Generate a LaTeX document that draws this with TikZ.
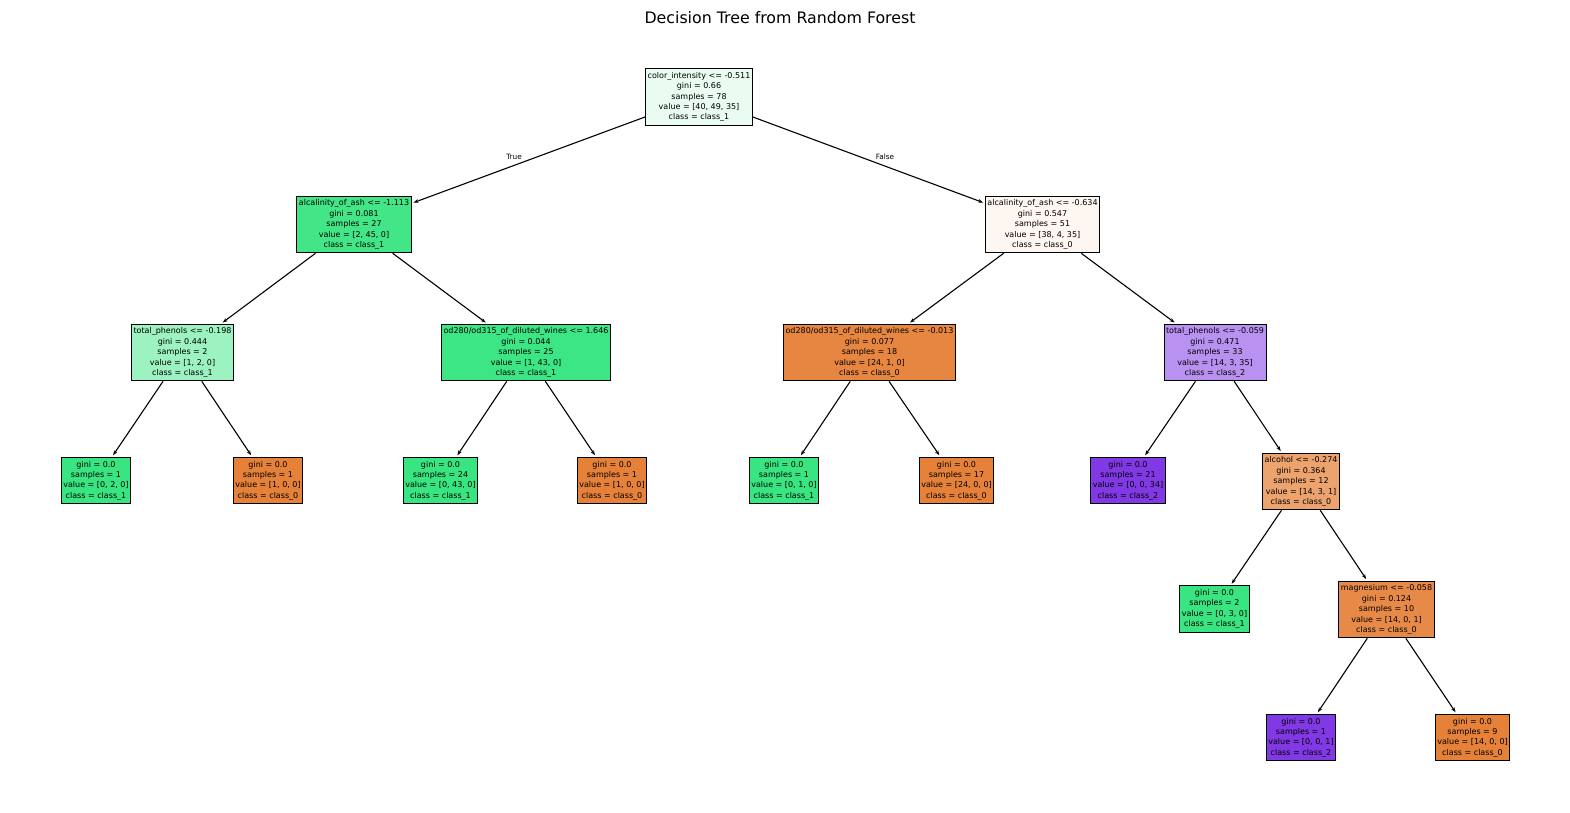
\documentclass[tikz,border=0pt]{standalone}
\usepackage{fontspec}
\setmainfont{DejaVu Sans}
\usetikzlibrary{arrows.meta}

\definecolor{rootc}{RGB}{234,252,241}
\definecolor{alkac}{RGB}{66,230,135}
\definecolor{phenc}{RGB}{156,242,192}
\definecolor{odac}{RGB}{61,230,132}
\definecolor{alkbc}{RGB}{253,246,241}
\definecolor{odbc}{RGB}{230,134,65}
\definecolor{phebc}{RGB}{185,145,241}
\definecolor{alcoc}{RGB}{236,163,110}
\definecolor{magnc}{RGB}{231,138,71}
\definecolor{zero}{RGB}{229,129,57}
\definecolor{one}{RGB}{57,229,129}
\definecolor{two}{RGB}{129,57,229}

\tikzset{
  box/.style={draw, line width=1pt, align=center, inner xsep=2pt, inner ysep=3.5pt,
    font=\fontsize{8}{10.4}\selectfont},
  edge/.style={line width=1.1pt, shorten >=2pt, -{Stealth[length=5pt,width=3.6pt]}},
  lab/.style={font=\fontsize{7.3}{8}\selectfont}
}

\begin{document}
\begin{tikzpicture}[x=1pt,y=-1pt]
\useasboundingbox (0,0) rectangle (1570,812);

\node[font=\fontsize{15.8}{18}\selectfont] (title) at (780,18) {Decision Tree from Random Forest};

\node[box, fill=rootc] (root) at (699,97) {color\_intensity <= -0.511\\gini = 0.66\\samples = 78\\value = [40, 49, 35]\\class = class\_1};

\node[box, fill=alkac] (alka) at (354,224.5) {alcalinity\_of\_ash <= -1.113\\gini = 0.081\\samples = 27\\value = [2, 45, 0]\\class = class\_1};
\node[box, fill=alkbc] (alkb) at (1042.5,224.5) {alcalinity\_of\_ash <= -0.634\\gini = 0.547\\samples = 51\\value = [38, 4, 35]\\class = class\_0};

\node[box, fill=phenc] (phena) at (182.5,352.5) {total\_phenols <= -0.198\\gini = 0.444\\samples = 2\\value = [1, 2, 0]\\class = class\_1};
\node[box, fill=odac] (oda) at (526,352.5) {od280/od315\_of\_diluted\_wines <= 1.646\\gini = 0.044\\samples = 25\\value = [1, 43, 0]\\class = class\_1};
\node[box, fill=odbc] (odb) at (869.5,352.5) {od280/od315\_of\_diluted\_wines <= -0.013\\gini = 0.077\\samples = 18\\value = [24, 1, 0]\\class = class\_0};
\node[box, fill=phebc] (phenb) at (1215,352.5) {total\_phenols <= -0.059\\gini = 0.471\\samples = 33\\value = [14, 3, 35]\\class = class\_2};

\node[box, fill=one] (leafa) at (96,480.5) {gini = 0.0\\samples = 1\\value = [0, 2, 0]\\class = class\_1};
\node[box, fill=zero] (leafb) at (268,480.5) {gini = 0.0\\samples = 1\\value = [1, 0, 0]\\class = class\_0};
\node[box, fill=one] (leafc) at (440.5,480.5) {gini = 0.0\\samples = 24\\value = [0, 43, 0]\\class = class\_1};
\node[box, fill=zero] (leafd) at (612,480.5) {gini = 0.0\\samples = 1\\value = [1, 0, 0]\\class = class\_0};
\node[box, fill=one] (leafe) at (784,480.5) {gini = 0.0\\samples = 1\\value = [0, 1, 0]\\class = class\_1};
\node[box, fill=zero] (leaff) at (956.5,480.5) {gini = 0.0\\samples = 17\\value = [24, 0, 0]\\class = class\_0};
\node[box, fill=two] (leafg) at (1128,480.5) {gini = 0.0\\samples = 21\\value = [0, 0, 34]\\class = class\_2};
\node[box, fill=alcoc] (alco) at (1301,481.5) {alcohol <= -0.274\\gini = 0.364\\samples = 12\\value = [14, 3, 1]\\class = class\_0};

\node[box, fill=one] (leafh) at (1214.5,609) {gini = 0.0\\samples = 2\\value = [0, 3, 0]\\class = class\_1};
\node[box, fill=magnc] (magn) at (1386.5,609.5) {magnesium <= -0.058\\gini = 0.124\\samples = 10\\value = [14, 0, 1]\\class = class\_0};

\node[box, fill=two] (leafi) at (1301,737.5) {gini = 0.0\\samples = 1\\value = [0, 0, 1]\\class = class\_2};
\node[box, fill=zero] (leafj) at (1472.5,737.5) {gini = 0.0\\samples = 9\\value = [14, 0, 0]\\class = class\_0};

\draw[edge] (root) -- (alka);
\draw[edge] (root) -- (alkb);
\node[lab] (true) at (514,157) {True};
\node[lab] (false) at (885,157) {False};

\draw[edge] (alka) -- (phena);
\draw[edge] (alka) -- (oda);
\draw[edge] (alkb) -- (odb);
\draw[edge] (alkb) -- (phenb);

\draw[edge] (phena) -- (leafa);
\draw[edge] (phena) -- (leafb);
\draw[edge] (oda) -- (leafc);
\draw[edge] (oda) -- (leafd);
\draw[edge] (odb) -- (leafe);
\draw[edge] (odb) -- (leaff);
\draw[edge] (phenb) -- (leafg);
\draw[edge] (phenb) -- (alco);

\draw[edge] (alco) -- (leafh);
\draw[edge] (alco) -- (magn);
\draw[edge] (magn) -- (leafi);
\draw[edge] (magn) -- (leafj);

\end{tikzpicture}
\end{document}
